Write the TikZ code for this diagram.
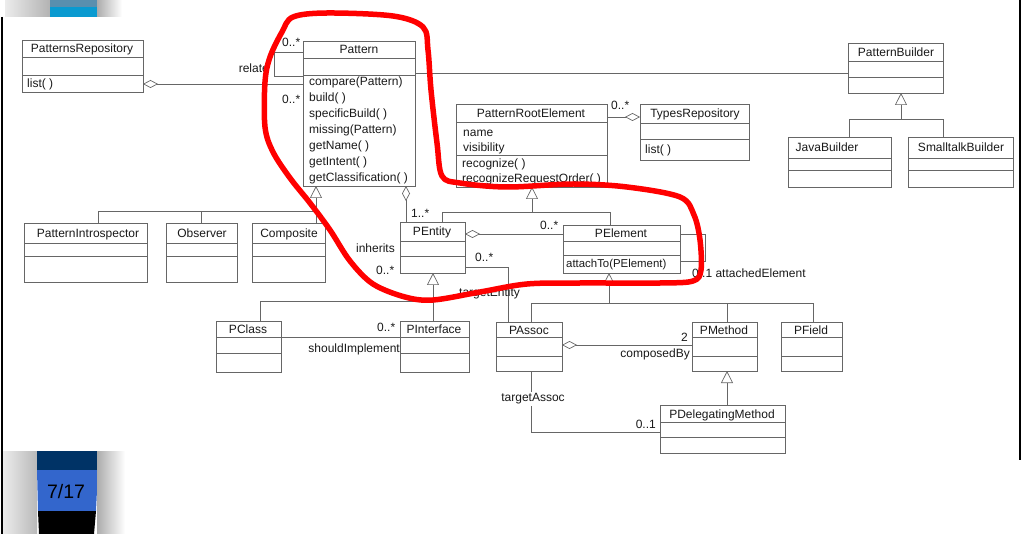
\documentclass[tikz,border=0pt]{standalone}
\usepackage{fontspec}
\setmainfont{Liberation Sans}
\usetikzlibrary{arrows.meta}
\definecolor{slidenavy}{HTML}{003366}
\definecolor{slideblue}{HTML}{3366CC}
\definecolor{slidecyan}{HTML}{0A9AD0}
\definecolor{slideteal}{HTML}{5A8FAE}
\tikzset{
    umlbox/.style={rectangle, draw=black!60, line width=0.7pt, inner sep=0pt, outer sep=0pt},
    umlline/.style={draw=black!60, line width=0.7pt},
    title/.style={font=\fontsize{12}{14}\selectfont, text=black!90, inner sep=0pt, anchor=base},
    member/.style={font=\fontsize{12}{14}\selectfont, text=black!90, inner sep=0pt, anchor=base west},
    role/.style={font=\fontsize{12}{14}\selectfont, text=black!90, inner sep=0pt, anchor=base west},
    agg/.style={umlline, {Diamond[open, length=15pt, width=8pt]}-},
    gen/.style={umlline, -{Triangle[open, length=12pt, width=12pt]}},
    sketch/.style={draw=red, line width=5.5pt, line cap=round, line join=round},
}
% class box: name, x1, y1, x2, y2, first rule, second rule, title x, title
\newcommand{\umlclass}[9]{%
  \node[umlbox, minimum width={#4pt-#2pt}, minimum height={#5pt-#3pt}] (#1) at ({(#2+#4)/2},{(#3+#5)/2}) {};
  \draw[umlline] (#2,#6) -- (#4,#6);
  \draw[umlline] (#2,#7) -- (#4,#7);
  \node[title] (#1-name) at (#8,{(#3+#6)/2+4.5}) {#9};
}

\begin{document}
\begin{tikzpicture}[x=1pt, y=-1pt]
\useasboundingbox (0,0) rectangle (1024,534);

% Slide frame
\shade[left color=gray!15, right color=gray!60] (5,0) rectangle (50,17);
\fill[slidecyan] (50,0) rectangle (97,17);
\fill[slideteal] (50,0) rectangle (97,7);
\shade[left color=gray!65, right color=white] (97,0) rectangle (122,17);
\shade[left color=gray!15, right color=gray!55] (3,451) rectangle (37,534);
\fill[slidenavy] (37,451) rectangle (98,470);
\fill[slideblue] (37,470) -- (98,470) -- (96,511) -- (38,511) -- cycle;
\fill[black] (38,511) -- (96,511) -- (94,534) -- (39,534) -- cycle;
\shade[left color=gray!65, right color=white] (97,451) rectangle (125,534);
\node[font=\fontsize{19.5}{22}\selectfont, inner sep=0pt] (pageNo) at (66,492) {7/17};
\draw[black, line width=2pt] (2,17) -- (2,534);
\draw[black, line width=1.5pt] (1020,0) -- (1020,460);

% Classes
\umlclass{PatternsRepository}{22}{40}{143}{92}{57}{75}{82}{PatternsRepository}
\umlclass{Pattern}{303}{41}{415}{186}{58}{75}{359}{Pattern}
\umlclass{PatternRootElement}{456}{104}{607}{187}{122}{155}{531}{PatternRootElement}
\umlclass{TypesRepository}{640}{104}{749}{160}{123}{139}{695}{TypesRepository}
\umlclass{PatternBuilder}{848}{43}{943}{93}{61}{77}{896}{PatternBuilder}
\umlclass{JavaBuilder}{788}{137}{891}{187}{158}{170}{827}{JavaBuilder}
\umlclass{SmalltalkBuilder}{908}{137}{1013}{187}{158}{170}{961}{SmalltalkBuilder}
\umlclass{PatternIntrospector}{24}{223}{147}{282}{243}{256}{88}{PatternIntrospector}
\umlclass{Observer}{166}{223}{237}{282}{243}{256}{202}{Observer}
\umlclass{Composite}{252}{223}{325}{282}{243}{256}{289}{Composite}
\umlclass{PEntity}{400}{222}{465}{273}{241}{256}{432}{PEntity}
\umlclass{PElement}{563}{225}{680}{273}{241}{255}{621}{PElement}
\umlclass{PClass}{216}{321}{281}{372}{337}{353}{248}{PClass}
\umlclass{PInterface}{400}{321}{469}{372}{337}{353}{434}{PInterface}
\umlclass{PAssoc}{496}{322}{562}{371}{337}{356}{529}{PAssoc}
\umlclass{PMethod}{692}{322}{757}{371}{337}{356}{724}{PMethod}
\umlclass{PField}{781}{322}{842}{371}{337}{356}{811}{PField}
\umlclass{PDelegatingMethod}{660}{405}{785}{453}{422}{437}{722}{PDelegatingMethod}

% Members
\node[member] (PatternsRepository-op) at (27,88) {list( )};
\foreach \op [count=\i] in {compare(Pattern), build( ), specificBuild( ), missing(Pattern), getName( ), getIntent( ), getClassification( )}
  \node[member] (Pattern-op\i) at (309,70+16*\i) {\op};
\node[member] (PatternRootElement-at1) at (463,137) {name};
\node[member] (PatternRootElement-at2) at (463,152) {visibility};
\node[member] (PatternRootElement-op1) at (462,168) {recognize( )};
\node[member] (PatternRootElement-op2) at (462,183) {recognizeRequestOrder( )};
\node[member] (TypesRepository-op) at (645,154) {list( )};
\node[member, font=\fontsize{11.4}{14}\selectfont] (PElement-op) at (566,268) {attachTo(PElement)};

% Associations
\draw[agg] (PatternsRepository.east |- 0,84) -- (Pattern.west |- 0,84);
\draw[umlline] (Pattern.west |- 0,52) -| (274,76) -- (Pattern.west |- 0,76);
\draw[umlline] (Pattern.east |- 0,73) -- (PatternBuilder.west |- 0,73);
\draw[agg] (Pattern.south -| 406,0) -- (PEntity.north -| 406,0);
\draw[agg] (TypesRepository.west |- 0,117) -- (PatternRootElement.east |- 0,117);
\draw[agg] (PEntity.east |- 0,234) -- (PElement.west |- 0,234);
\draw[umlline] (PElement.east |- 0,234) -| (705,261) -- (PElement.east |- 0,261);
\draw[umlline] (PEntity.east |- 0,267) -| (PAssoc.north -| 508,0);
\draw[umlline] (PClass.east |- 0,337) -- (PInterface.west |- 0,337);
\draw[agg] (PAssoc.east |- 0,345) -- (PMethod.west |- 0,345);
\draw[umlline] (PAssoc.south -| 531,0) |- (PDelegatingMethod.west |- 0,432);

% Generalizations
\coordinate (patGen) at (316,211);
\draw[gen] (patGen) -- (Pattern.south -| patGen);
\draw[umlline] (PatternIntrospector.north -| 98,0) |- (patGen);
\draw[umlline] (Observer.north) |- (patGen);
\draw[umlline] (Composite.north -| patGen) -- (patGen);

\coordinate (preGen) at (532,212);
\draw[gen] (preGen) -- (PatternRootElement.south -| preGen);
\draw[umlline] (PEntity.north -| 442,0) |- (preGen);
\draw[umlline] (PElement.north -| 610,0) |- (preGen);

\coordinate (pbGen) at (901,119);
\draw[gen] (pbGen) -- (PatternBuilder.south -| pbGen);
\draw[umlline] (JavaBuilder.north -| 849,0) |- (pbGen);
\draw[umlline] (SmalltalkBuilder.north -| 943,0) |- (pbGen);

\coordinate (entGen) at (433,301);
\draw[gen] (entGen) -- (PEntity.south -| entGen);
\draw[umlline] (PClass.north -| 260,0) |- (entGen);
\draw[umlline] (PInterface.north -| entGen) -- (entGen);

\coordinate (eltGen) at (609,303);
\draw[gen] (eltGen) -- (PElement.south -| eltGen);
\draw[umlline] (PAssoc.north -| 531,0) |- (eltGen);
\draw[umlline] (PField.north -| 813,0) |- (eltGen);
\draw[umlline] (PMethod.north -| 727,0) -- (eltGen -| 727,0);

\draw[gen] (PDelegatingMethod.north -| 727,0) -- (PMethod.south -| 727,0);

% Role names and multiplicities
\node[role, anchor=base east] (relateLbl) at (269,73) {relate};
\node[role] (multRelate) at (282,47) {0..*};
\node[role] (multRepo) at (282,104) {0..*};
\node[role] (multTypes) at (611,110) {0..*};
\node[role] (multParts) at (411,218) {1..*};
\node[role] (multElements) at (540,230) {0..*};
\node[role, anchor=base east] (inheritsLbl) at (395,253) {inherits};
\node[role] (multInherits) at (376,275) {0..*};
\node[role] (multTarget) at (475,262) {0..*};
\node[role] (targetEntityLbl) at (459,296) {targetEntity};
\node[role] (attachedLbl) at (692,277) {0..1 attachedElement};
\node[role] (multImpl) at (377,331) {0..*};
\node[role, anchor=base east] (shouldLbl) at (400,352) {shouldImplement};
\node[role] (multComposed) at (681,341) {2};
\node[role, anchor=base east] (composedLbl) at (690,357) {composedBy};
\node[role, anchor=center, fill=white, inner sep=1.5pt] (targetAssocLbl) at (533,399) {targetAssoc};
\node[role, anchor=base east] (multAssoc) at (656,428) {0..1};

% Hand-drawn highlight
\draw[sketch] plot[smooth cycle, tension=0.55] coordinates {
  (293,17) (327,13) (393,16) (423,27) (428,50) (431,90) (437,143) (442,176)
  (460,183) (507,187) (573,184) (627,187) (680,197) (694,215) (700,240)
  (701,270) (693,281) (660,283) (580,283) (527,284) (480,292) (433,300)
  (405,297) (373,284) (350,261) (330,230) (310,203) (290,178) (273,152)
  (265,127) (265,82) (270,57) (282,32)};

\end{tikzpicture}
\end{document}
